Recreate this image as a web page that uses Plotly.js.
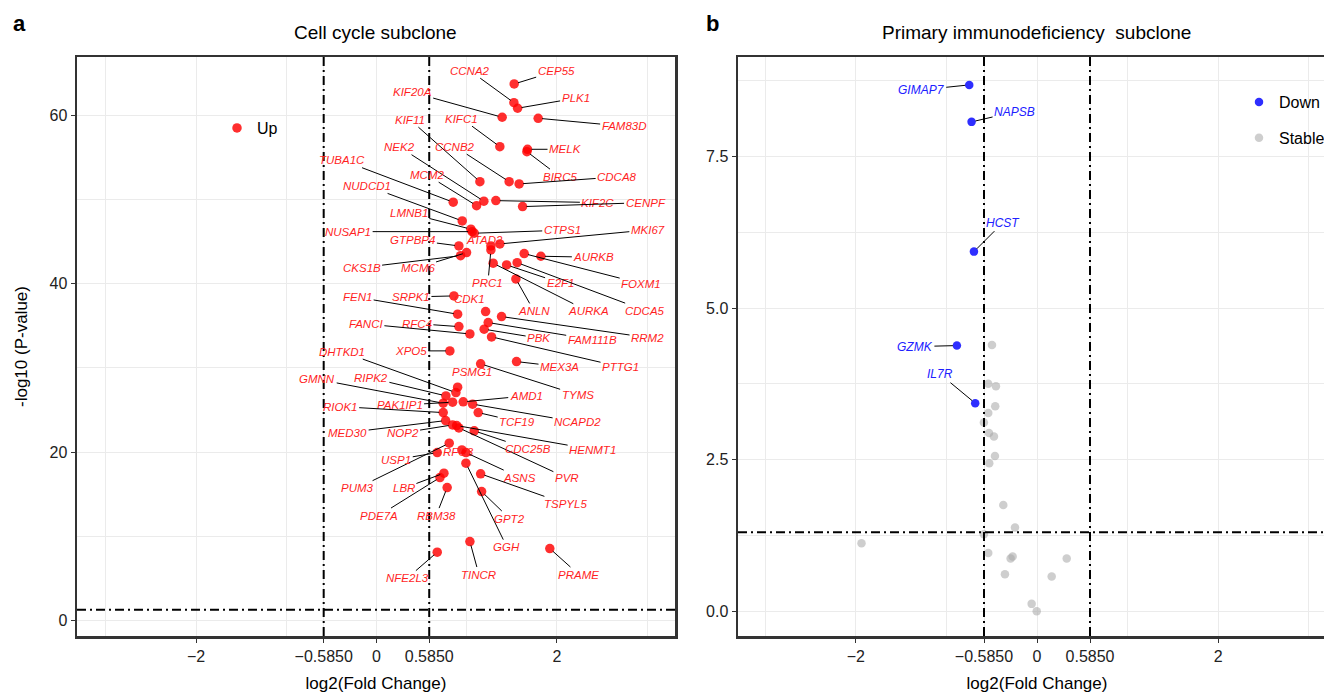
<!DOCTYPE html>
<html><head><meta charset="utf-8">
<script src="https://cdn.plot.ly/plotly-3.0.1.min.js"></script>
<style>html,body{margin:0;padding:0;overflow:hidden;background:#fff}#chart{width:1345px;height:693px}</style>
</head><body><div id="chart"></div>
<script>
// ---------- data: panel a (Up genes) ----------
const upGenes = ['CEP55','CCNA2','PLK1','KIF20A','FAM83D','KIFC1','MELK','BIRC5','KIF11','CCNB2',
 'CDCA8','TUBA1C','NEK2','MCM2','KIF2C','CENPF','NUDCD1','LMNB1','NUSAP1','CTPS1',
 'ATAD2','MKI67','GTPBP4','PRC1','CKS1B','MCM6','AURKB','FOXM1','AURKA','E2F1',
 'CDCA5','ANLN','SRPK1','CDK1','FEN1','RRM2','FAM111B','RFC4','PBK','FANCI',
 'PTTG1','XPO5','MEX3A','TYMS','PSMG1','DHTKD1','RIPK2','GMNN','PAK1IP1','AMD1',
 'NCAPD2','RIOK1','TCF19','MED30','NOP2','HENMT1','PVR','CDC25B','PUM3','RFC3',
 'USP1','ASNS','GGH','LBR','TSPYL5','PDE7A','RBM38','GPT2','TINCR','PRAME','NFE2L3'];
const upLog2FC = [1.527,1.524,1.565,1.394,1.793,1.368,1.675,1.668,1.147,1.471,
 1.582,0.851,1.191,1.110,1.324,1.620,0.951,1.047,1.061,1.084,
 1.269,1.368,0.914,1.269,0.933,0.999,1.823,1.638,1.294,1.443,
 1.560,1.546,0.859,1.210,0.900,1.387,1.239,0.914,1.194,1.036,
 1.276,0.814,1.553,1.155,0.900,0.881,0.770,0.740,0.844,0.962,
 1.066,0.740,1.128,0.767,0.844,0.889,0.914,1.084,0.807,0.947,
 0.674,0.992,0.992,0.748,1.155,0.704,0.784,1.166,1.036,1.922,0.674];
const upNegLog10P = [63.70,61.48,60.82,59.75,59.63,56.26,55.95,55.67,52.11,52.11,
 51.84,49.67,49.79,49.26,49.86,49.15,47.45,46.47,46.18,45.99,
 44.48,44.72,44.48,44.01,43.33,43.69,43.26,43.57,42.43,42.23,
 42.50,40.57,38.55,36.69,36.38,36.10,35.39,34.91,34.60,34.04,
 33.69,32.03,30.76,30.49,27.72,27.08,26.69,25.82,25.94,25.98,
 25.71,24.71,24.71,23.76,23.25,23.17,22.89,22.54,21.08,20.28,
 19.96,19.96,18.71,17.52,17.44,17.00,15.81,15.34,9.41,8.58,8.15];

// ---------- data: panel b (Down / Stable genes) ----------
const downGenes = ['GIMAP7','NAPSB','HCST','GZMK','IL7R'];
const downLog2FC = [-0.748,-0.722,-0.696,-0.884,-0.682];
const downNegLog10P = [8.68,8.07,5.93,4.38,3.43];
const stableLog2FC = [-0.497,-0.538,-0.453,-0.461,-0.538,-0.586,-0.530,-0.475,-0.464,-0.527,
 -0.372,-0.243,-0.586,-1.937,-0.538,-0.269,-0.291,0.328,-0.354,0.162,-0.059,-0.003];
const stableNegLog10P = [4.39,3.75,3.71,3.38,3.27,3.11,2.94,2.88,2.56,2.44,
 1.75,1.38,1.27,1.12,0.96,0.90,0.87,0.87,0.61,0.57,0.12,0.00];

// ---------- axis ticks & thresholds ----------
const xTickVals = [-2,-0.585,0,0.585,2];
const xTickText = ['\u22122','\u22120.5850','0','0.5850','2'];
const fcCutoff = 0.585;
const pCutoff = 1.3;

// ---------- label placement (pixel offsets of each label from its point) ----------
const upLabelDx = [42,-44,58,-90,86,-38,38,33,-70,-54, 98,-111,-84,-50,102,123,-95,-62,-124,88,
 -6,148,-46,-3,-99,-49,53,117,95,54, 128,18,-43,-16,-100,146,104,-42,55,-104,
 129,-39,43,97,14,-114,-75,-126,-53,63, 105,-103,39,-98,-50,136,108,54,-92,-3,
 -41,54,41,-40,85,-61,-11,28,9,29,-30];
const upLabelDy = [-13,-32,-10,-25,8,-28,0,25,-62,-35, -7,-42,-54,-31,2,-4,-35,-16,0,-3,
 -6,-14,-6,33,12,15,1,30,48,18, 48,32,1,-13,-17,21,17,-3,9,-10,
 30,0,5,31,-15,-41,-18,-24,3,-6, 18,-6,9,12,8,24,50,18,45,2,
 7,25,84,15,30,38,28,27,33,26,26];
const downLabelDx = [-48,43,29,-42,-35];
const downLabelDy = [5,-10,-29,1,-29];

// ---------- figure geometry ----------
const W = 1345, H = 693;
const FONT = '"Liberation Sans", Arial, Helvetica, sans-serif';
const px = v => v / W, py = v => 1 - v / H;
const yDom = [py(636), py(57)];

function labelAnn(gene, x, y, dx, dy, xref, yref, color, size) {
  const base = {x: x, y: y, xref: xref, yref: yref, text: '<i>' + gene + '</i>',
    font: {family: FONT, size: size, color: color}};
  if (Math.hypot(dx, dy) > 22) {
    return Object.assign(base, {showarrow: true, ax: dx, ay: dy, arrowhead: 0,
      arrowwidth: 1, arrowcolor: '#000', standoff: 4});
  }
  return Object.assign(base, {showarrow: false, xshift: dx, yshift: -dy});
}

const annotations = [];
upGenes.forEach((g, i) => annotations.push(
  labelAnn(g, upLog2FC[i], upNegLog10P[i], upLabelDx[i], upLabelDy[i], 'x', 'y', '#ff1f1f', 11.5)));
downGenes.forEach((g, i) => annotations.push(
  labelAnn(g, downLog2FC[i], downNegLog10P[i], downLabelDx[i], downLabelDy[i], 'x2', 'y2', '#2020ff', 12)));

const paperText = (x, y, text, size) => ({xref: 'paper', yref: 'paper', x: px(x), y: py(y),
  xanchor: 'center', yanchor: 'middle', text: text, showarrow: false,
  font: {family: FONT, size: size, color: '#000'}});
annotations.push(
  paperText(376, 32, 'Cell cycle subclone', 19),
  paperText(1036, 32, 'Primary immunodeficiency  subclone', 19),
  paperText(19, 23, '<b>a</b>', 22),
  paperText(712, 23, '<b>b</b>', 22)
);

const dashLine = {color: '#000', width: 2, dash: '9px,4px,2px,4px'};
const shapes = [
  {type: 'line', xref: 'x', yref: 'y domain', x0: -fcCutoff, x1: -fcCutoff, y0: 0, y1: 1, line: dashLine},
  {type: 'line', xref: 'x', yref: 'y domain', x0: fcCutoff, x1: fcCutoff, y0: 0, y1: 1, line: dashLine},
  {type: 'line', xref: 'x domain', yref: 'y', x0: 0, x1: 1, y0: pCutoff, y1: pCutoff, line: dashLine},
  {type: 'line', xref: 'x2', yref: 'y2 domain', x0: -fcCutoff, x1: -fcCutoff, y0: 0, y1: 1, line: dashLine},
  {type: 'line', xref: 'x2', yref: 'y2 domain', x0: fcCutoff, x1: fcCutoff, y0: 0, y1: 1, line: dashLine},
  {type: 'line', xref: 'x2 domain', yref: 'y2', x0: 0, x1: 1, y0: pCutoff, y1: pCutoff, line: dashLine}
];

const grid = '#ebebeb';
const common = {
  showline: true, mirror: true, linecolor: '#333', linewidth: 2.5,
  ticks: 'outside', ticklen: 4, tickcolor: '#333', tickwidth: 1,
  showgrid: true, gridcolor: grid, gridwidth: 1, zeroline: false,
  tickfont: {family: FONT, size: 16, color: '#222'}
};
const xCommon = Object.assign({}, common, {
  tickmode: 'array', tickvals: xTickVals, ticktext: xTickText,
  minor: {tickmode: 'array', tickvals: [-3, -1, 1, 3], showgrid: true, gridcolor: grid, ticks: ''},
  title: {text: 'log2(Fold Change)', font: {family: FONT, size: 17, color: '#000'}, standoff: 14}
});

const layout = {
  width: W, height: H, margin: {l: 0, r: 0, t: 0, b: 0},
  paper_bgcolor: '#fff', plot_bgcolor: '#fff', hovermode: false,
  font: {family: FONT}, showlegend: true,
  xaxis: Object.assign({}, xCommon, {domain: [px(77), px(675)], range: [-3.32, 3.31], anchor: 'y'}),
  yaxis: Object.assign({}, common, {domain: yDom, range: [-1.8, 66.9], anchor: 'x',
    tickmode: 'array', tickvals: [0, 20, 40, 60],
    minor: {tickmode: 'array', tickvals: [10, 30, 50], showgrid: true, gridcolor: grid, ticks: ''},
    title: {text: '-log10 (P-value)', font: {family: FONT, size: 17, color: '#000'}, standoff: 18}}),
  xaxis2: Object.assign({}, xCommon, {domain: [px(738), px(1336)], range: [-3.30, 3.30], anchor: 'y2'}),
  yaxis2: Object.assign({}, common, {domain: yDom, range: [-0.41, 9.14], anchor: 'x2',
    tickmode: 'array', tickvals: [0, 2.5, 5, 7.5], ticktext: ['0.0', '2.5', '5.0', '7.5'],
    minor: {tickmode: 'array', tickvals: [1.25, 3.75, 6.25, 8.75], showgrid: true, gridcolor: grid, ticks: ''}}),
  legend: {x: px(217), y: py(128), xanchor: 'left', yanchor: 'middle', bgcolor: 'rgba(0,0,0,0)',
    font: {family: FONT, size: 16, color: '#000'}, visible: true},
  legend2: {x: px(1239), y: py(120), xanchor: 'left', yanchor: 'middle', bgcolor: 'rgba(0,0,0,0)',
    font: {family: FONT, size: 16, color: '#000'}, tracegroupgap: 12, traceorder: 'grouped', visible: true},
  shapes: shapes,
  annotations: annotations
};

const traces = [
  {type: 'scatter', mode: 'markers', name: 'Up', x: upLog2FC, y: upNegLog10P, xaxis: 'x', yaxis: 'y',
   marker: {color: 'rgba(255,0,0,0.82)', size: 9.5}, legend: 'legend', showlegend: true, cliponaxis: false},
  {type: 'scatter', mode: 'markers', name: 'Down', x: downLog2FC, y: downNegLog10P, xaxis: 'x2', yaxis: 'y2',
   marker: {color: 'rgba(0,0,255,0.82)', size: 8.5}, legend: 'legend2', legendgroup: 'd', showlegend: true},
  {type: 'scatter', mode: 'markers', name: 'Stable', x: stableLog2FC, y: stableNegLog10P, xaxis: 'x2', yaxis: 'y2',
   marker: {color: 'rgba(165,165,165,0.55)', size: 8.5}, legend: 'legend2', legendgroup: 's', showlegend: true}
];

Plotly.newPlot('chart', traces, layout, {displayModeBar: false, staticPlot: true});
</script></body></html>
